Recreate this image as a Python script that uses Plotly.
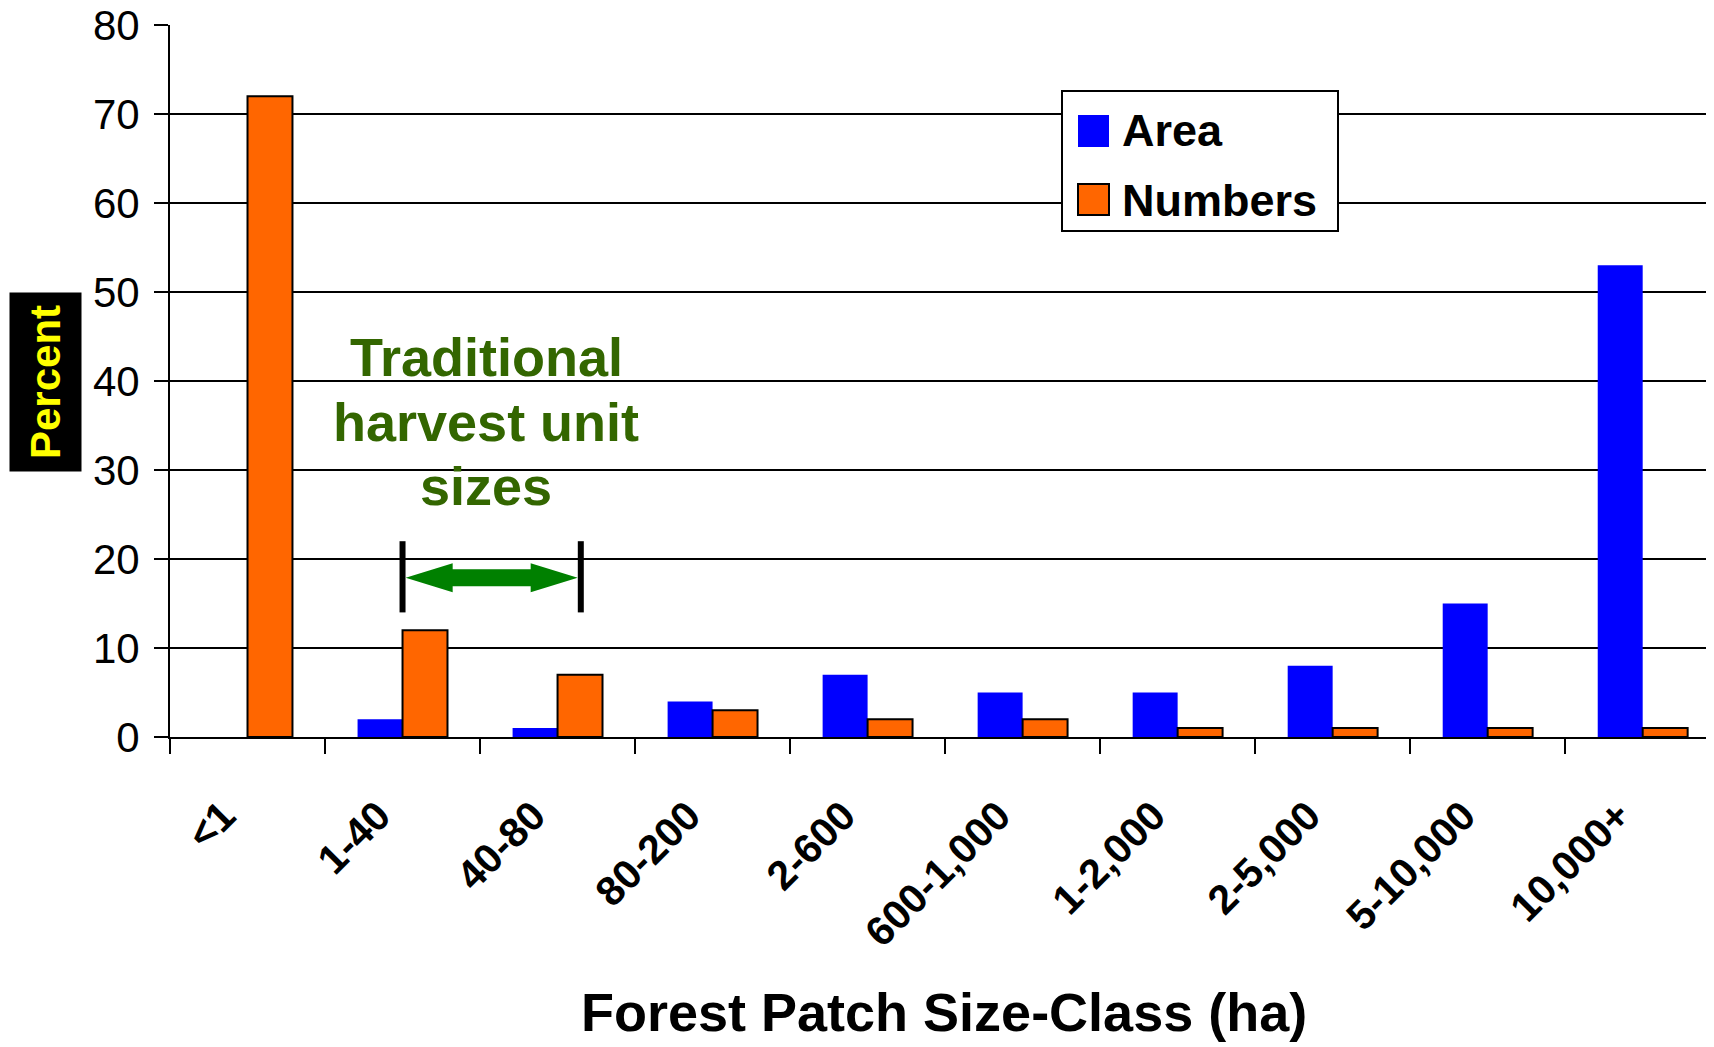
import plotly.graph_objects as go

# data
size_classes = ["<1", "1-40", "40-80", "80-200", "2-600", "600-1,000",
                "1-2,000", "2-5,000", "5-10,000", "10,000+"]
area_pct = [0, 2, 1, 4, 7, 5, 5, 8, 15, 53]
numbers_pct = [72, 12, 7, 3, 2, 2, 1, 1, 1, 1]
series_names = ["Area", "Numbers"]
y_ticks = [0, 10, 20, 30, 40, 50, 60, 70, 80]
note_lines = ["Traditional", "harvest unit", "sizes"]

BLUE = "#0000FF"
ORANGE = "#FF6600"
GREEN_TXT = "#336600"
GREEN_ARROW = "#008000"
FONT = "Arial, Liberation Sans, sans-serif"

# the page body has an 8px margin, so the figure is drawn 8px in from the corner
OFF = 8
W, H = 1714 - OFF, 1047 - OFF
PLOT_L, PLOT_R, PLOT_T, PLOT_B = 170, 1714, 25, 737   # in screen pixels
PW, PH = PLOT_R - PLOT_L, PLOT_B - PLOT_T


def px_x(p):
    """screen pixel x -> paper fraction"""
    return (p - PLOT_L) / PW


def px_y(p):
    """screen pixel y -> paper fraction"""
    return (PLOT_B - p) / PH


fig = go.Figure()
fig.add_trace(go.Bar(x=size_classes, y=area_pct, name=series_names[0],
                     marker=dict(color=BLUE, line=dict(width=0)), showlegend=False))
fig.add_trace(go.Bar(x=size_classes, y=numbers_pct, name=series_names[1],
                     marker=dict(color=ORANGE, line=dict(color="black", width=2)),
                     showlegend=False))

fig.update_layout(
    width=W, height=H,
    margin=dict(l=PLOT_L - OFF, r=0, t=PLOT_T - OFF, b=H - (PLOT_B - OFF)),
    plot_bgcolor="white", paper_bgcolor="white",
    barmode="group", bargap=0.42, bargroupgap=0,
    font=dict(family=FONT, color="black"),
)

fig.update_xaxes(
    type="category", range=[-0.5, 9.46], automargin=False,
    showline=True, linecolor="black", linewidth=2,
    showgrid=False, tickson="boundaries",
    ticks="outside", ticklen=15, tickwidth=2, tickcolor="black",
    tickangle=-45, ticklabelstandoff=12,
    tickvals=size_classes,
    ticktext=[c + "\u00a0" * 3 for c in size_classes],
    tickfont=dict(family=FONT, size=41, color="black", weight="bold"),
)
fig.update_yaxes(
    range=[0, 80], tickvals=y_ticks, automargin=False,
    showline=True, linecolor="black", linewidth=2,
    showgrid=True, gridcolor="black", gridwidth=2, zeroline=False,
    ticks="outside", ticklen=14, tickwidth=2, tickcolor="black",
    ticklabelstandoff=6, ticklabeloverflow="allow",
    tickfont=dict(family=FONT, size=42, color="black"),
)

# y axis title: yellow on black
fig.add_annotation(
    text="<b>Percent</b>", xref="paper", yref="paper",
    x=px_x(46), y=px_y(382), xanchor="center", yanchor="middle",
    textangle=-90, showarrow=False, bgcolor="black", borderpad=12,
    font=dict(family=FONT, size=42, color="#FFFF00"),
)

# x axis title
fig.add_annotation(
    text="<b>Forest Patch Size-Class (ha)</b>", xref="paper", yref="paper",
    x=px_x(944), y=px_y(1012), xanchor="center", yanchor="middle",
    showarrow=False, font=dict(family=FONT, size=54, color="black"),
)

# harvest unit note, one line each for tighter leading
for line, ly in zip(note_lines, [42.7, 35.4, 28.2]):
    fig.add_annotation(
        text=f"<b>{line}</b>", xref="x", yref="y",
        x=1.54, y=ly, xanchor="center", yanchor="middle", showarrow=False,
        font=dict(family=FONT, size=54, color=GREEN_TXT),
    )

# bracket bars
for bx in (1.0, 2.15):
    fig.add_shape(type="line", xref="x", yref="y", x0=bx, x1=bx, y0=14, y1=22,
                  line=dict(color="black", width=6))

# double-headed arrow (pixel sized, anchored between the bars)
hl, hh, sh, hw = 86, 14.5, 8.5, 39
arrow = (f"M {-hl} 0 L {-hw} {hh} L {-hw} {sh} L {hw} {sh} L {hw} {hh} "
         f"L {hl} 0 L {hw} {-hh} L {hw} {-sh} L {-hw} {-sh} L {-hw} {-hh} Z")
fig.add_shape(type="path", xref="x", yref="y", xsizemode="pixel", ysizemode="pixel",
              xanchor=1.575, yanchor=17.9, path=arrow,
              fillcolor=GREEN_ARROW, line=dict(width=0))

# legend box drawn by hand (large swatches)
fig.add_shape(type="rect", xref="paper", yref="paper",
              x0=px_x(1062), x1=px_x(1338), y0=px_y(231), y1=px_y(91),
              fillcolor="white", line=dict(color="black", width=2), layer="above")
legend_items = [(series_names[0], BLUE, 0, 115, 147, 130),
                (series_names[1], ORANGE, 2, 184, 215, 200)]
for name, col, lw, sy0, sy1, ty in legend_items:
    fig.add_shape(type="rect", xref="paper", yref="paper",
                  x0=px_x(1078), x1=px_x(1109), y0=px_y(sy1), y1=px_y(sy0),
                  fillcolor=col, line=dict(color="black", width=lw), layer="above")
    fig.add_annotation(text=f"<b>{name}</b>", xref="paper", yref="paper",
                       x=px_x(1120), y=px_y(ty), xanchor="left", yanchor="middle",
                       showarrow=False, font=dict(family=FONT, size=45, color="black"))

fig.write_html("out.html")
